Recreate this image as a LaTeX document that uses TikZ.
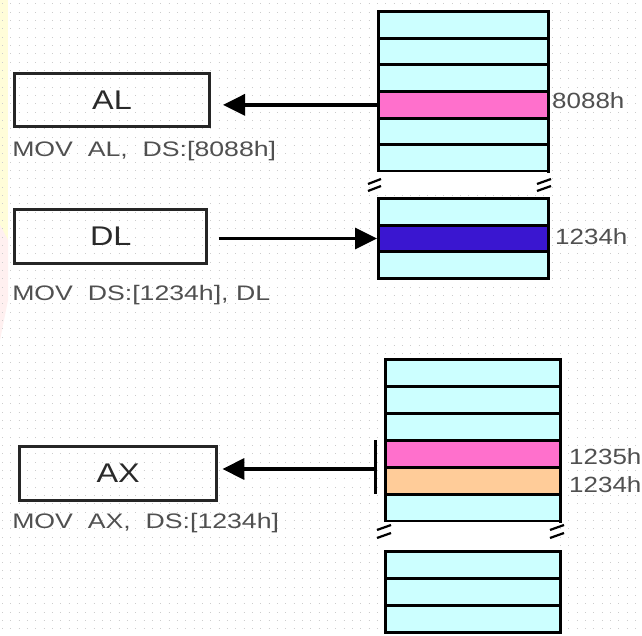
\documentclass[tikz,border=0pt]{standalone}
\usepackage{fontspec}
\setmainfont{Liberation Sans}
\usetikzlibrary{arrows.meta}
\definecolor{cellcyan}{HTML}{CCFFFF}
\definecolor{cellpink}{HTML}{FF70CC}
\definecolor{cellblue}{HTML}{3A16D0}
\definecolor{cellpeach}{HTML}{FFCC99}
\definecolor{labgray}{HTML}{505050}
\definecolor{txtdark}{HTML}{2A2A2A}
\tikzset{
  cell/.style={draw=black, line width=3pt, inner sep=0pt, minimum width=#1, minimum height=26.67pt, anchor=north west},
  regbox/.style={draw=black!85, line width=3pt, inner sep=0pt, anchor=north west, font=\fontsize{27}{27}\selectfont, text=txtdark, xscale=1.2},
  instr/.style={anchor=west, inner sep=0pt, font=\fontsize{21}{21}\selectfont, text=labgray, xscale=1.27},
  addr/.style={anchor=west, inner sep=0pt, font=\fontsize{22}{22}\selectfont, text=labgray, xscale=1.18},
  bigarrow/.style={line width=3.4pt, -{Triangle[length=22pt,width=21pt]}},
  breakmark/.style={line width=2.2pt, black}
}
\begin{document}
\begin{tikzpicture}[x=1pt,y=-1pt]
\useasboundingbox (0,0) rectangle (642,636);
\fill[white] (0,0) rectangle (642,636);
% faint watermark on the left edge
\fill[yellow!15] (0,0) rectangle (8,245);
\fill[red!6] (0,225) -- (8,240) -- (8,300) -- (0,340) -- cycle;
% dot grid
\foreach \yy in {4,12.33,...,636}
  \draw[gray!40, line width=1pt, dash pattern=on 1pt off 7.33pt] (2,\yy) -- (642,\yy);

% ===== top stack =====
\foreach \i/\c in {1/cellcyan,2/cellcyan,3/cellcyan,4/cellpink,5/cellcyan,6/cellcyan}
  \node[cell=170pt, fill=\c] (t\i) at (377,{10+(\i-1)*26.67}) {};
\fill[white] (377,171.8) rectangle (547,195.2);
\foreach \i/\c in {1/cellcyan,2/cellblue,3/cellcyan}
  \node[cell=170pt, fill=\c] (u\i) at (377,{197+(\i-1)*26.67}) {};
\draw[breakmark] (368,184) -- (381,179);
\draw[breakmark] (368,191) -- (381,186);
\draw[breakmark] (537,184) -- (551,179);
\draw[breakmark] (537,191) -- (551,186);
\node[addr] (a8088) at (552,101) {8088h};
\node[addr] (a1234) at (555,237) {1234h};

% ===== registers (top) =====
\node[regbox, minimum width=162pt, minimum height=53pt] (AL) at (13,72) {AL};
\node[instr] (iAL) at (12,151) {MOV\ \ AL,\ \ DS:[8088h]};
\draw[bigarrow] (t4.west) -- ([xshift=12pt]AL.east |- t4.west);

\node[regbox, minimum width=160pt, minimum height=54pt] (DL) at (13,208) {DL};
\node[instr] (iDL) at (12,295) {MOV\ \ DS:[1234h],\ DL};
\draw[bigarrow] ([xshift=10pt]DL.east |- u2.west) -- (u2.west);

% ===== bottom stack =====
\foreach \i/\c in {1/cellcyan,2/cellcyan,3/cellcyan,4/cellpink,5/cellpeach,6/cellcyan}
  \node[cell=175pt, fill=\c, minimum height=27pt] (s\i) at (384,{358+(\i-1)*27}) {};
\fill[white] (384,521.8) rectangle (559,548.2);
\foreach \i/\c in {1/cellcyan,2/cellcyan,3/cellcyan}
  \node[cell=175pt, fill=\c, minimum height=27pt] (w\i) at (384,{550+(\i-1)*27}) {};
\draw[breakmark] (377,530) -- (391,525);
\draw[breakmark] (377,538) -- (391,533);
\draw[breakmark] (550,530) -- (564,525);
\draw[breakmark] (550,538) -- (564,533);
\node[addr] (a1235b) at (569,457) {1235h};
\node[addr] (a1234b) at (569,485) {1234h};

% bar spanning the two bytes
\coordinate (bartop) at (375,440);
\coordinate (barbot) at (375,494);
\coordinate (barmid) at (375,469);
\draw[line width=3pt] (bartop) -- (barbot);

\node[regbox, minimum width=164pt, minimum height=54pt] (AX) at (18,445) {AX};
\node[instr] (iAX) at (12,523) {MOV\ \ AX,\ \ DS:[1234h]};
\draw[bigarrow] (barmid) -- ([xshift=4pt]AX.east |- barmid);
\end{tikzpicture}
\end{document}
